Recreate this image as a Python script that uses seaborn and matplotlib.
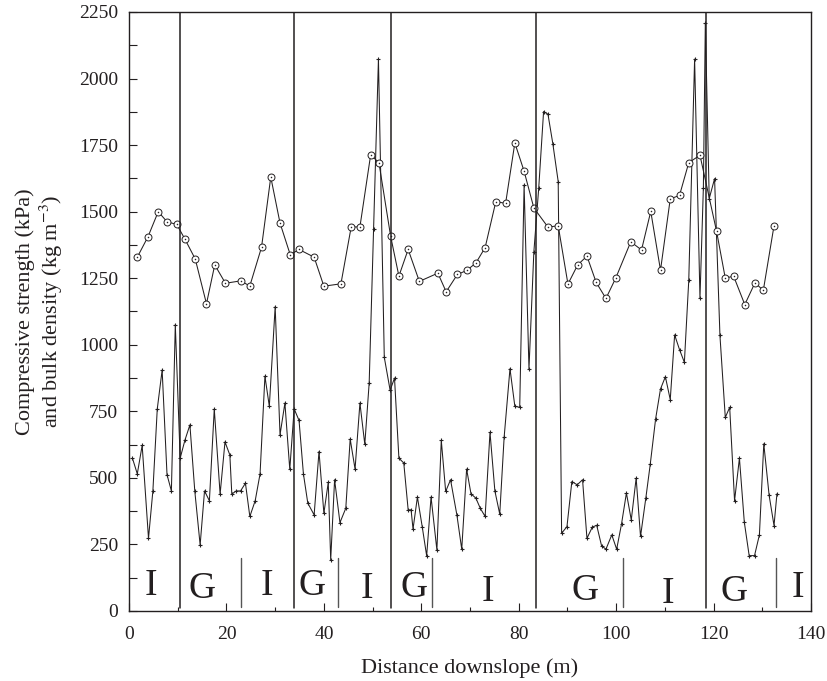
import numpy as np
import pandas as pd
import matplotlib
matplotlib.use('Agg')
import matplotlib.pyplot as plt
import seaborn as sns
from matplotlib.ticker import MultipleLocator

# bulk density (open circles)
bulk_x = [1.7, 3.9, 6.0, 7.8, 9.8, 11.5, 13.6, 15.9, 17.6, 19.8,
          22.9, 24.8, 27.2, 29.1, 31.0, 33.1, 34.9, 38.0, 40.0, 43.5,
          45.6, 47.4, 49.6, 51.3, 53.7, 55.4, 57.3, 59.6, 63.4, 65.1,
          67.4, 69.3, 71.2, 73.1, 75.3, 77.3, 79.2, 81.1, 83.1, 86.0,
          88.1, 90.1, 92.1, 94.0, 95.9, 97.9, 99.9, 103.0, 105.2, 107.1,
          109.1, 111.1, 113.0, 114.9, 117.2, 120.6, 122.4, 124.1, 126.4, 128.5,
          130.2, 132.4]
bulk_density = [1329, 1406, 1500, 1462, 1452, 1396, 1322, 1154, 1300, 1231,
                1240, 1221, 1366, 1630, 1457, 1338, 1358, 1329, 1220, 1229,
                1442, 1443, 1713, 1684, 1408, 1258, 1358, 1238, 1269, 1199,
                1264, 1279, 1307, 1365, 1538, 1531, 1758, 1652, 1514, 1442,
                1447, 1228, 1300, 1333, 1234, 1174, 1250, 1387, 1356, 1501,
                1280, 1548, 1561, 1684, 1712, 1427, 1250, 1258, 1151, 1233,
                1204, 1447]

# compressive strength (small crosses)
strength_x = [0.7, 1.7, 2.7, 4.0, 4.9, 5.8, 6.8, 7.8, 8.7, 9.5,
              10.5, 11.5, 12.5, 13.5, 14.6, 15.5, 16.5, 17.5, 18.7, 19.7,
              20.7, 21.1, 22.0, 22.9, 23.9, 24.8, 25.9, 26.9, 27.9, 28.8,
              30.0, 31.0, 32.0, 33.0, 33.9, 34.9, 35.8, 36.7, 38.0, 39.0,
              40.0, 40.9, 41.4, 42.2, 43.3, 44.5, 45.4, 46.4, 47.4, 48.4,
              49.3, 50.2, 51.2, 52.4, 53.6, 54.5, 55.4, 56.4, 57.3, 57.9,
              58.3, 59.2, 60.2, 61.1, 62.0, 63.2, 64.1, 65.0, 66.0, 67.3,
              68.3, 69.3, 70.2, 71.2, 72.1, 73.1, 74.1, 75.1, 76.1, 77.0,
              78.2, 79.2, 80.2, 81.1, 82.1, 83.1, 84.1, 85.1, 86.0, 87.0,
              88.1, 88.8, 89.9, 90.9, 92.0, 93.1, 94.0, 95.1, 96.0, 97.0,
              97.9, 99.1, 100.1, 101.1, 102.1, 103.1, 104.1, 105.0, 106.1, 107.0,
              108.1, 109.1, 110.1, 111.1, 112.0, 113.0, 114.0, 114.9, 116.1, 117.2,
              117.9, 118.3, 119.1, 120.2, 121.3, 122.4, 123.3, 124.3, 125.3, 126.3,
              127.3, 128.4, 129.4, 130.3, 131.4, 132.4, 133.0]
strength = [574, 515, 622, 273, 451, 759, 905, 512, 451, 1076,
            574, 643, 699, 451, 248, 451, 414, 759, 439, 635,
            586, 439, 451, 451, 480, 355, 414, 515, 882, 769,
            1143, 662, 781, 532, 759, 716, 515, 405, 361, 599,
            367, 483, 192, 493, 332, 386, 646, 533, 781, 626,
            857, 1436, 2073, 953, 829, 875, 574, 556, 380, 380,
            308, 428, 315, 207, 428, 229, 641, 449, 493, 361,
            232, 533, 440, 424, 386, 355, 671, 451, 364, 652,
            910, 769, 765, 1600, 909, 1348, 1588, 1876, 1866, 1755,
            1613, 292, 317, 486, 474, 493, 273, 315, 322, 245,
            232, 286, 232, 327, 443, 342, 499, 280, 426, 552,
            722, 834, 880, 794, 1037, 982, 934, 1242, 2073, 1175,
            1590, 2208, 1549, 1624, 1035, 727, 765, 414, 574, 334,
            208, 208, 286, 628, 434, 321, 440]

# zone boundaries and labels
major_bounds = [10.5, 33.8, 53.8, 83.5, 118.5]
minor_bounds = [22.9, 42.9, 62.1, 101.4, 132.9]
zone_labels = ['I', 'G', 'I', 'G', 'I', 'G', 'I', 'G', 'I', 'G', 'I']
zone_x = [4.4, 14.9, 28.4, 37.6, 48.8, 58.6, 73.6, 93.5, 110.7, 124.2, 137.3]
zone_y = [94, 82, 94, 96, 82, 89, 72, 75, 64, 73, 89]

bulk_df = pd.DataFrame({'x': bulk_x, 'y': bulk_density})
strength_df = pd.DataFrame({'x': strength_x, 'y': strength})

sns.set_theme(style='ticks')
plt.rcParams['font.family'] = 'serif'
plt.rcParams['font.serif'] = ['Liberation Serif', 'DejaVu Serif']
plt.rcParams['mathtext.fontset'] = 'stix'

ink = '#231f20'
fig = plt.figure(figsize=(8.27, 6.81), dpi=100)
ax = fig.add_axes([0.156, 0.1028, 0.8247, 0.8796])

sns.lineplot(data=strength_df, x='x', y='y', sort=False, estimator=None, ax=ax,
             color=ink, linewidth=0.75, marker='+', markersize=3.5,
             markeredgewidth=0.8, markeredgecolor=ink)
sns.lineplot(data=bulk_df, x='x', y='y', sort=False, estimator=None, ax=ax,
             color=ink, linewidth=0.75, marker='o', markersize=5,
             markerfacecolor='white', markeredgecolor=ink, markeredgewidth=0.7)
sns.scatterplot(data=bulk_df, x='x', y='y', ax=ax, color=ink, s=1.2,
                linewidth=0, zorder=4)

for b in major_bounds:
    ax.plot([b, b], [12, 2250], color=ink, linewidth=1.1)
for b in minor_bounds:
    ax.plot([b, b], [14, 200], color='#555555', linewidth=1.0)
for lab, lx, ly in zip(zone_labels, zone_x, zone_y):
    ax.text(lx, ly, lab, ha='center', va='center', fontsize=27, color=ink)

ax.set_xlim(0, 140)
ax.set_ylim(0, 2250)
ax.xaxis.set_major_locator(MultipleLocator(20))
ax.xaxis.set_minor_locator(MultipleLocator(10))
ax.yaxis.set_major_locator(MultipleLocator(250))
ax.yaxis.set_minor_locator(MultipleLocator(125))
ax.tick_params(which='major', direction='in', length=6, width=0.8,
               labelsize=14, colors=ink, pad=8)
ax.tick_params(axis='x', which='major', pad=11)
ax.tick_params(which='minor', direction='in', length=3, width=0.8, colors=ink)
ax.tick_params(axis='y', which='minor', length=6)
for s in ax.spines.values():
    s.set_color(ink)
    s.set_linewidth(1.0)

ax.set_xlabel('Distance downslope (m)', fontsize=16, color=ink, labelpad=11)
ax.set_ylabel('Compressive strength (kPa)\nand bulk density (kg m$^{-3}$)',
              fontsize=16, color=ink, labelpad=10, linespacing=1.15)

fig.savefig('out.png', dpi=100)
